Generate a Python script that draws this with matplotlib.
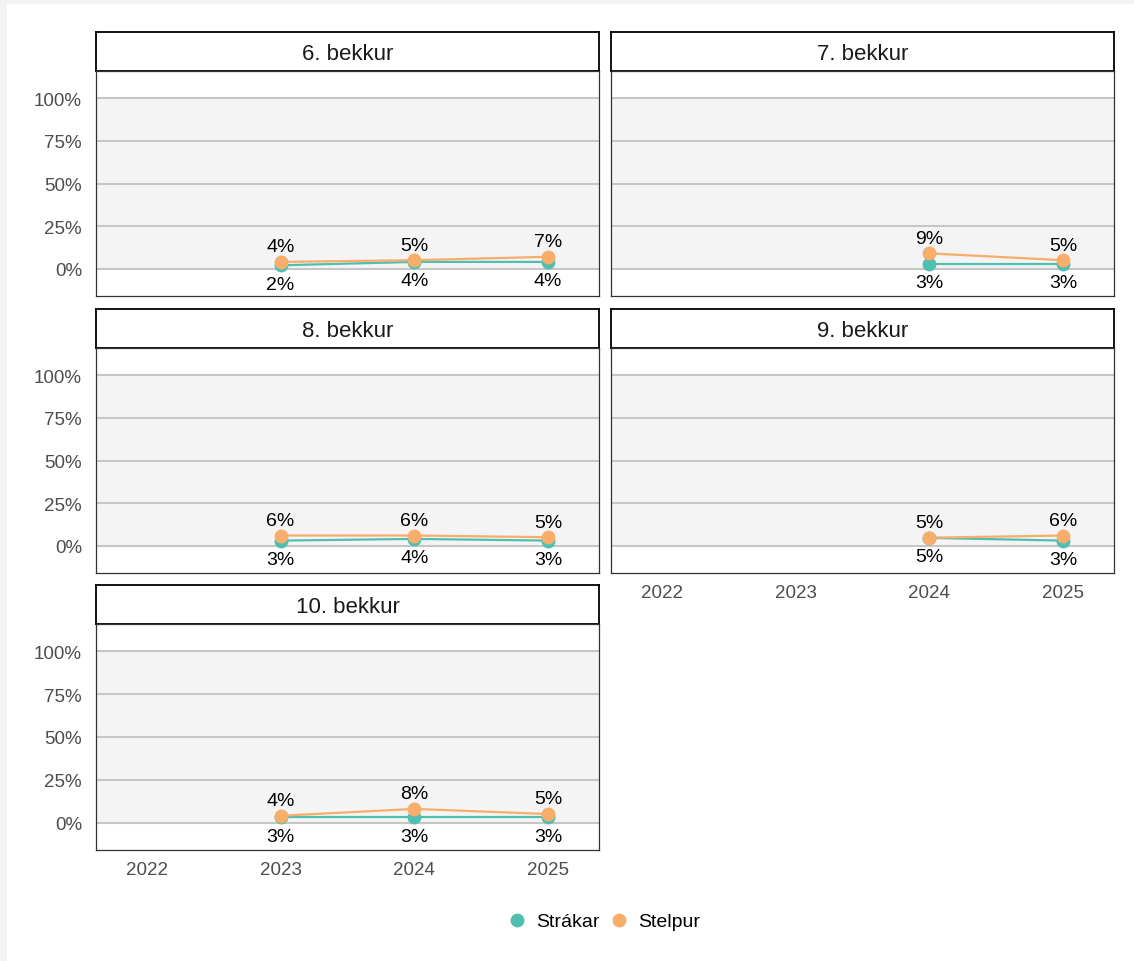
import matplotlib
matplotlib.use("Agg")
import matplotlib.pyplot as plt
from matplotlib.patches import Rectangle
from matplotlib.lines import Line2D

plt.rcParams['font.family'] = ['Liberation Sans', 'DejaVu Sans']

# ---- data ----
panels = ["6. bekkur", "7. bekkur", "8. bekkur", "9. bekkur", "10. bekkur"]
all_years = [2022, 2023, 2024, 2025]
years = {
    "6. bekkur": [2023, 2024, 2025],
    "7. bekkur": [2024, 2025],
    "8. bekkur": [2023, 2024, 2025],
    "9. bekkur": [2024, 2025],
    "10. bekkur": [2023, 2024, 2025],
}
strakar = {
    "6. bekkur": [0.02, 0.04, 0.04],
    "7. bekkur": [0.03, 0.03],
    "8. bekkur": [0.03, 0.04, 0.03],
    "9. bekkur": [0.046, 0.03],
    "10. bekkur": [0.03, 0.03, 0.03],
}
stelpur = {
    "6. bekkur": [0.04, 0.05, 0.07],
    "7. bekkur": [0.09, 0.05],
    "8. bekkur": [0.06, 0.06, 0.05],
    "9. bekkur": [0.047, 0.06],
    "10. bekkur": [0.04, 0.08, 0.05],
}
y_ticks = [0, 0.25, 0.5, 0.75, 1.0]
y_labels = ["0%", "25%", "50%", "75%", "100%"]
series_names = ["Strákar", "Stelpur"]
colors = {"Strákar": "#4fbfb1", "Stelpur": "#f8ad6b"}

W, H = 1134, 962
fig = plt.figure(figsize=(W / 100, H / 100), dpi=100)
fig.patch.set_facecolor("white")
# light grey page margin at top and left
fig.patches.append(Rectangle((0, 0), 7 / W, 1, transform=fig.transFigure,
                             facecolor="#f3f3f3", edgecolor="none", zorder=0))
fig.patches.append(Rectangle((0, 1 - 5 / H), 1, 5 / H, transform=fig.transFigure,
                             facecolor="#f3f3f3", edgecolor="none", zorder=0))


def rect(x0, y0, x1, y1):
    return [x0 / W, 1 - y1 / H, (x1 - x0) / W, (y1 - y0) / H]


cols = [(96, 599), (611, 1114)]
rows = [(33, 72, 297), (310, 349, 574), (586, 625, 851)]

tick_color = "#4d4d4d"

for i, name in enumerate(panels):
    r, c = divmod(i, 2)
    x0, x1 = cols[c]
    s0, p0, p1 = rows[r]
    # strip
    sax = fig.add_axes(rect(x0, s0, x1, p0))
    sax.set_xticks([]); sax.set_yticks([])
    sax.set_facecolor("white")
    for sp in sax.spines.values():
        sp.set_color("black"); sp.set_linewidth(1.3)
    sax.text(0.5, 0.5, name, ha="center", va="center_baseline", fontsize=16,
             color="#1a1a1a", transform=sax.transAxes)
    # panel
    ax = fig.add_axes(rect(x0, p0, x1, p1))
    ax.set_facecolor("white")
    ax.set_xlim(2021.62, 2025.38)
    ax.set_ylim(-0.16, 1.16)
    ax.axhspan(0, 1, color="#f4f4f4", zorder=0, lw=0)
    for yt in y_ticks:
        ax.axhline(yt, color="#c6c6c6", lw=1.5, zorder=1)
    for sp in ax.spines.values():
        sp.set_color("#333333"); sp.set_linewidth(0.9)
    ax.tick_params(length=0)
    ax.set_yticks(y_ticks)
    if c == 0:
        ax.set_yticklabels(y_labels, fontsize=13.5, color=tick_color)
        ax.tick_params(axis="y", pad=10)
    else:
        ax.set_yticklabels([])
    ax.set_xticks(all_years)
    if name in ("9. bekkur", "10. bekkur"):
        ax.set_xticklabels([str(y) for y in all_years], fontsize=13.5, color=tick_color)
        ax.tick_params(axis="x", pad=8)
    else:
        ax.set_xticklabels([])

    yrs = years[name]
    for sname, data, nudge in (("Strákar", strakar[name], -0.1),
                               ("Stelpur", stelpur[name], 0.1)):
        ax.plot(yrs, data, color=colors[sname], lw=1.6, zorder=3)
        ax.plot(yrs, data, 'o', color=colors[sname], ms=10, mec="none", zorder=4)
        for xv, yv in zip(yrs, data):
            ax.text(xv, yv + nudge, f"{round(yv * 100)}%", ha="center",
                    va="center_baseline", fontsize=14, color="black", zorder=5)

# legend
ly = 1 - 921 / H
items = [("Strákar", 517), ("Stelpur", 619)]
for sname, mx in items:
    fig.add_artist(Line2D([mx / W], [ly], marker='o', color=colors[sname], ms=10,
                          mec="none", ls="none", transform=fig.transFigure))
    fig.text((mx + 19) / W, ly, sname, ha="left", va="center_baseline", fontsize=14,
             color="black")

fig.savefig("out.png", dpi=100, facecolor="white")
